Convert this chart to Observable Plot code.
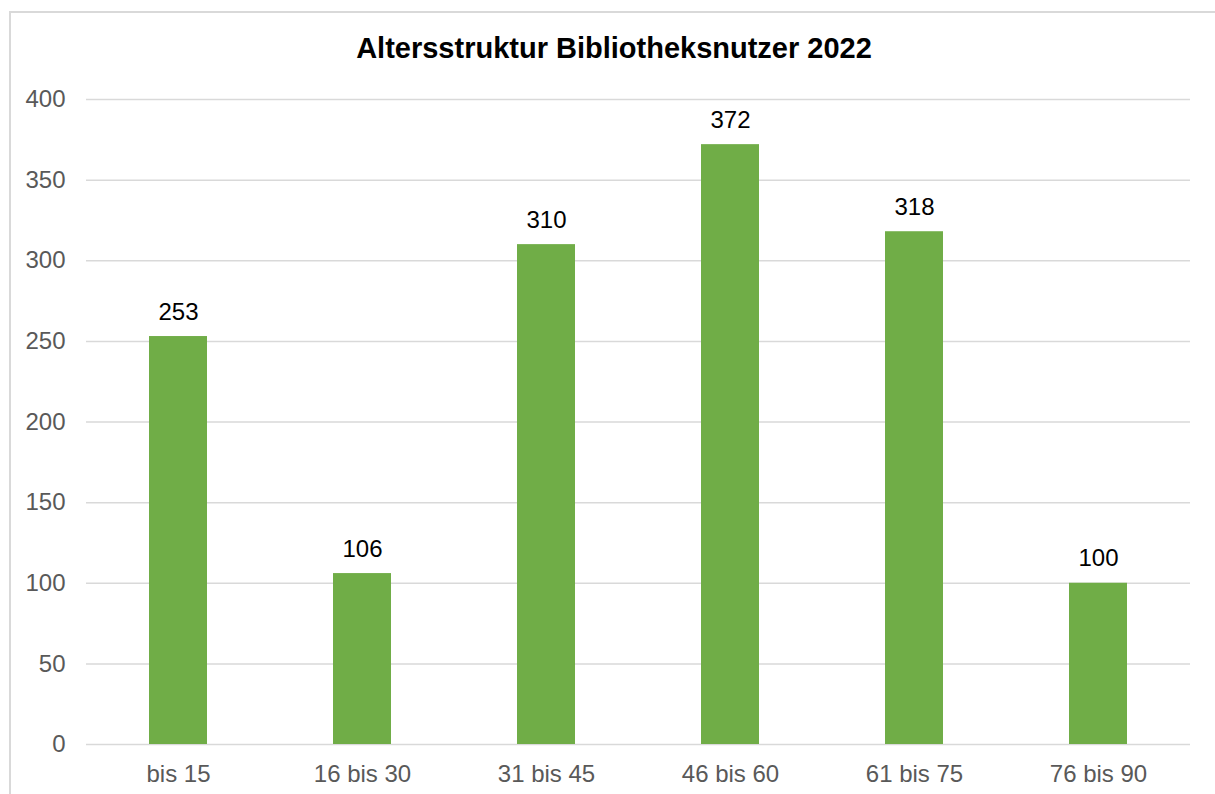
<!DOCTYPE html>
<html>
<head>
<meta charset="utf-8">
<script src="https://cdn.jsdelivr.net/npm/d3@7"></script>
<script src="https://cdn.jsdelivr.net/npm/@observablehq/plot@0.6"></script>
<style>
  html, body { margin: 0; padding: 0; background: #fff; overflow: hidden; }
  #wrap { position: relative; width: 1215px; height: 794px; overflow: hidden; }
  #frame { position: absolute; left: 9px; top: 11px; width: 1300px; height: 900px; border: 2px solid #d9d9d9; box-sizing: border-box; }
  #title { position: absolute; left: 0; width: 1228px; top: 32px; text-align: center; font-family: "Liberation Sans", Arial, sans-serif; font-weight: bold; font-size: 29px; color: #000; line-height: 32px; }
  #chart { position: absolute; left: 0; top: 0; }
</style>
</head>
<body>
<div id="wrap">
  <div id="frame"></div>
  <div id="title">Altersstruktur Bibliotheksnutzer 2022</div>
  <div id="chart"></div>
</div>
<script>
const categories = ["bis 15", "16 bis 30", "31 bis 45", "46 bis 60", "61 bis 75", "76 bis 90"];
const values = [253, 106, 310, 372, 318, 100];
const yTicks = [0, 50, 100, 150, 200, 250, 300, 350, 400];

const data = categories.map((c, i) => ({cat: c, value: values[i]}));

const chart = Plot.plot({
  width: 1215,
  height: 794,
  marginTop: 99,
  marginBottom: 50,
  marginLeft: 86,
  marginRight: 25,
  style: {fontFamily: "'Liberation Sans', Arial, sans-serif", fontSize: "24px", color: "#595959", background: "transparent", overflow: "visible"},
  x: {domain: categories, paddingInner: 0.687, paddingOuter: 0.3435, label: null},
  y: {domain: [0, 400], label: null},
  marks: [
    Plot.gridY(yTicks, {stroke: "#d9d9d9", strokeOpacity: 1, strokeWidth: 1.5}),
    Plot.barY(data, {x: "cat", y: "value", fill: "#70ad47"}),
    Plot.axisY(yTicks, {tickSize: 0, tickPadding: 21, label: null, fontSize: 24, fill: "#595959"}),
    Plot.axisX({tickSize: 0, tickPadding: 20, label: null, fontSize: 24, fill: "#595959"}),
    Plot.text(data, {x: "cat", y: "value", text: d => String(d.value), dy: -17, lineAnchor: "bottom", fill: "#000", fontSize: 24})
  ]
});
document.getElementById("chart").appendChild(chart);
</script>
</body>
</html>
